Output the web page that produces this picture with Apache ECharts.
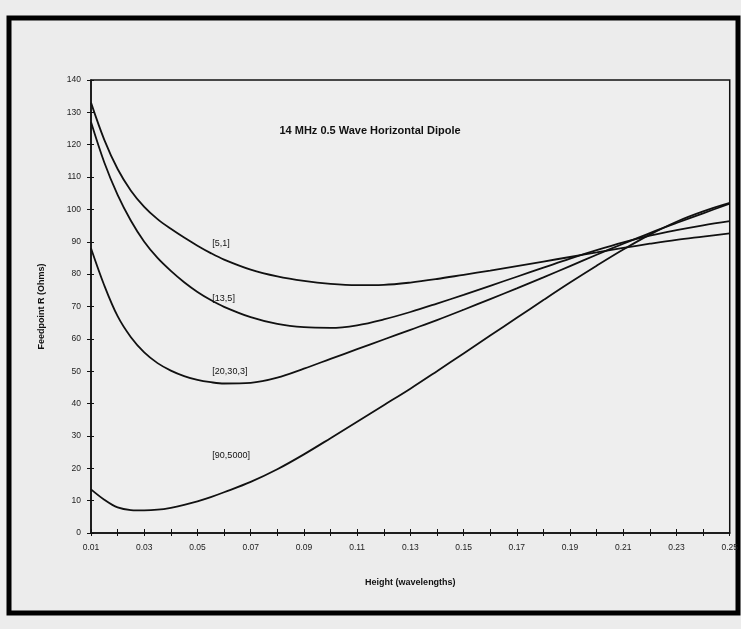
<!DOCTYPE html>
<html>
<head>
<meta charset="utf-8">
<script src="https://cdn.jsdelivr.net/npm/echarts@6/dist/echarts.min.js"></script>
<style>
html,body{margin:0;padding:0;background:#ececec;}
#c{width:741px;height:629px;}
</style>
</head>
<body>
<div id="c"></div>
<script>
const heights = [0.010,0.015,0.020,0.025,0.030,0.035,0.040,0.045,0.050,0.055,0.060,0.070,0.080,0.090,0.100,0.110,0.120,0.130,0.140,0.150,0.160,0.170,0.180,0.190,0.200,0.210,0.220,0.230,0.240,0.250];
const r5_1    = [133,121.5,112.5,105.8,100.8,97,94,91.3,88.8,86.5,84.5,81.4,79.3,77.9,77,76.6,76.7,77.4,78.5,79.8,81.1,82.5,83.9,85.3,86.7,88.1,89.4,90.6,91.6,92.6];
const r13_5   = [127,114.5,104.5,96.5,90,85,81,77.5,74.5,72,69.9,66.7,64.6,63.6,63.4,64.2,66,68.3,70.9,73.6,76.4,79.2,82,84.8,87.4,89.8,91.9,93.6,95.1,96.4];
const r20_30_3= [88,76.5,67,60.5,55.8,52.5,50.2,48.5,47.3,46.6,46.2,46.4,48,50.8,53.8,56.8,59.8,62.8,65.8,69,72.3,75.6,79,82.5,86,89.4,92.7,95.8,98.8,101.8];
const r90_5000= [13.5,10.3,7.9,7.1,7.0,7.2,7.8,8.7,9.8,11.1,12.6,15.8,19.7,24.3,29.3,34.4,39.5,44.6,50,55.5,61,66.5,72,77.4,82.6,87.6,92.2,96.2,99.4,102];
const seriesNames = ['[5,1]','[13,5]','[20,30,3]','[90,5000]'];
const labelAnchors = [[0.0556,89.6],[0.0556,72.6],[0.0556,49.8],[0.0556,23.8]];
const titleText = '14 MHz 0.5 Wave Horizontal Dipole';
const xName = 'Height (wavelengths)';
const yName = 'Feedpoint R (Ohms)';

const allR = [r5_1, r13_5, r20_30_3, r90_5000];
const chart = echarts.init(document.getElementById('c'), null, {renderer:'canvas'});
const font = 'Liberation Sans, Arial, sans-serif';

const series = allR.map((arr, i) => ({
  name: seriesNames[i],
  type: 'line',
  smooth: 0.35,
  symbol: 'none',
  data: heights.map((h, j) => [h, arr[j]]),
  lineStyle: {color:'#111', width:1.8},
  markPoint: {
    symbol: 'circle', symbolSize: 0,
    data: [{coord: labelAnchors[i], value: seriesNames[i]}],
    label: {show:true, position:'right', distance:0, formatter: seriesNames[i], color:'#111', fontFamily:font, fontSize:9}
  }
}));

const axisFontStyle = {fontFamily:font, fontSize:8.5, color:'#222'};

chart.setOption({
  backgroundColor: '#ececec',
  animation: false,
  title: {
    text: titleText, left: 365, top: 120, textAlign: 'center',
    textStyle: {fontFamily: font, fontWeight:'bold', fontSize: 11, color:'#111'}
  },
  grid: {left: 91, right: 9, top: 80, bottom: 96, show: true, borderColor:'#111', borderWidth:1.5, backgroundColor:'#eeeeee'},
  xAxis: [{
    type:'value', min:0.01, max:0.25, interval:0.01, position:'bottom', offset:0,
    name: xName, nameLocation:'middle', nameGap: 45,
    nameTextStyle:{fontFamily:font, fontWeight:'bold', fontSize:9, color:'#111'},
    axisLine:{lineStyle:{color:'#111', width:1.5}},
    axisTick:{show:true, inside:true, length:4, lineStyle:{color:'#111'}},
    splitLine:{show:false},
    axisLabel:Object.assign({margin:10,
      formatter: v => (Math.round(v*100) % 2 === 1) ? v.toFixed(2) : ''}, axisFontStyle)
  },{
    type:'value', min:0.01, max:0.25, interval:0.01, position:'bottom', offset:0,
    axisLine:{show:false},
    axisTick:{show:true, inside:false, length:3, lineStyle:{color:'#111'}},
    splitLine:{show:false},
    axisLabel:{show:false}
  }],
  yAxis: [{
    type:'value', min:0, max:140, interval:10, position:'left', offset:0,
    name: yName, nameLocation:'middle', nameGap: 45, nameRotate: 90,
    nameTextStyle:{fontFamily:font, fontWeight:'bold', fontSize:9, color:'#111'},
    axisLine:{show:true, lineStyle:{color:'#111', width:1.5}},
    axisTick:{show:true, length:4, lineStyle:{color:'#111'}},
    splitLine:{show:false},
    axisLabel:Object.assign({margin:10}, axisFontStyle)
  },{
    type:'value', min:0, max:140, interval:10, position:'left', offset:0,
    axisLine:{show:false},
    axisTick:{show:true, inside:true, length:3, lineStyle:{color:'#111'}},
    splitLine:{show:false},
    axisLabel:{show:false}
  }],
  graphic: [{
    type:'rect', shape:{x:9, y:18, width:729, height:595},
    style:{fill:'none', stroke:'#000', lineWidth:5}, silent:true
  }],
  series: series
});
</script>
</body>
</html>
